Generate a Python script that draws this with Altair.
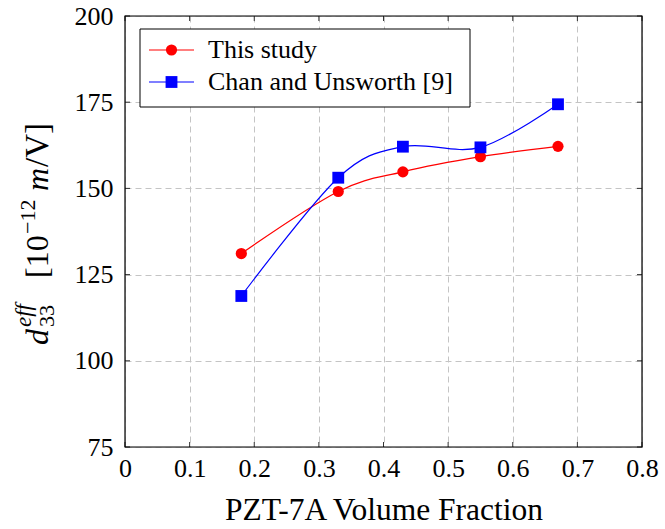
import altair as alt
import pandas as pd

# ---------------- data ----------------
X_VALUES = [0.18, 0.33, 0.43, 0.55, 0.67]
THIS_STUDY = [131.1, 149.1, 154.8, 159.2, 162.2]
CHAN = [118.8, 153.1, 162.1, 161.9, 174.4]
SERIES = ["This study", "Chan and Unsworth [9]"]
X_TICKS = [0, 0.1, 0.2, 0.3, 0.4, 0.5, 0.6, 0.7, 0.8]
Y_TICKS = [75, 100, 125, 150, 175, 200]
X_TITLE = "PZT-7A Volume Fraction"
Y_TITLE_PARTS = ["d", "33", "eff", "[10", "\u221212", "m", "/V]"]

# ---------------- style ----------------
COLORS = ["#ff0000", "#0000ff"]
SHAPES = ["circle", "square"]
SIZES = [125, 140]
FONT = "Liberation Serif"
W, H = 517, 431

x_scale = alt.Scale(domain=[0, 0.8], nice=False, zero=False)
y_scale = alt.Scale(domain=[75, 200], nice=False, zero=False)

x_axis = alt.Axis(values=X_TICKS, format=".1~f", title=X_TITLE, grid=True,
                  labelPadding=8, titleBaseline="alphabetic", titleY=72,
                  labelFont=FONT, labelFontSize=26, titleFont=FONT)
y_axis = alt.Axis(values=Y_TICKS, title=None, grid=True, labelPadding=12,
                  labelBaseline="middle", labelFont=FONT, labelFontSize=26)

XE = alt.X("x:Q", scale=x_scale, axis=x_axis)
YE = alt.Y("y:Q", scale=y_scale, axis=y_axis)

layers = []

# inner ticks (pgfplots style)
xt = pd.DataFrame({"x": X_TICKS})
yt = pd.DataFrame({"y": Y_TICKS})
TICK_LEN = 5
TICK_COLOR = "#333333"
layers.append(alt.Chart(xt).mark_rule(color=TICK_COLOR, strokeWidth=1).encode(
    x=XE, y=alt.value(H), y2=alt.value(H - TICK_LEN)))
layers.append(alt.Chart(xt).mark_rule(color=TICK_COLOR, strokeWidth=1).encode(
    x=XE, y=alt.value(0), y2=alt.value(TICK_LEN)))
layers.append(alt.Chart(yt).mark_rule(color=TICK_COLOR, strokeWidth=1).encode(
    y=YE, x=alt.value(0), x2=alt.value(TICK_LEN)))
layers.append(alt.Chart(yt).mark_rule(color=TICK_COLOR, strokeWidth=1).encode(
    y=YE, x=alt.value(W - TICK_LEN), x2=alt.value(W)))

series_vals = [THIS_STUDY, CHAN]
for i, name in enumerate(SERIES):
    df = pd.DataFrame({"x": X_VALUES, "y": series_vals[i]})
    layers.append(alt.Chart(df).mark_line(interpolate="cardinal", color=COLORS[i],
                                          strokeWidth=1.2).encode(x=XE, y=YE))
    layers.append(alt.Chart(df).mark_point(filled=True, opacity=1, shape=SHAPES[i],
                                           size=SIZES[i], color=COLORS[i])
                  .encode(x=XE, y=YE))

# frame
one = pd.DataFrame({"k": [0]})
layers.append(alt.Chart(one).mark_rect(fill=None, stroke="black", strokeWidth=1.2).encode(
    x=alt.value(0), x2=alt.value(W), y=alt.value(0), y2=alt.value(H)))

# legend box
layers.append(alt.Chart(one).mark_rect(fill="white", stroke="black", strokeWidth=1).encode(
    x=alt.value(15), x2=alt.value(345), y=alt.value(13), y2=alt.value(91)))
ROW_Y = [34, 66]
for i, name in enumerate(SERIES):
    layers.append(alt.Chart(one).mark_rule(color=COLORS[i], strokeWidth=1.2).encode(
        x=alt.value(24), x2=alt.value(69), y=alt.value(ROW_Y[i])))
    layers.append(alt.Chart(one).mark_point(filled=True, opacity=1, shape=SHAPES[i],
                                            size=SIZES[i], color=COLORS[i]).encode(
        x=alt.value(46.5), y=alt.value(ROW_Y[i])))
    layers.append(alt.Chart(pd.DataFrame({"t": [name]})).mark_text(
        align="left", baseline="middle", font=FONT, fontSize=26, color="black").encode(
        text="t:N", x=alt.value(83), y=alt.value(ROW_Y[i])))

# y-axis title built from pieces (rotated)
PIECE_STYLE = [  # (italic, size, dx, dy)
    (True, 32, 0, 0),
    (False, 22, 18, 6),
    (True, 23, 18, -17),
    (False, 32, 67, 0),
    (False, 22, 111, -13),
    (True, 32, 154, 0),
    (False, 33, 178, 0),
]
for txt, (ital, fs, dx, dy) in zip(Y_TITLE_PARTS, PIECE_STYLE):
    layers.append(alt.Chart(pd.DataFrame({"t": [txt]})).mark_text(
        align="left", baseline="alphabetic", angle=270, font=FONT, fontSize=fs,
        fontStyle="italic" if ital else "normal", color="black", dx=dx, dy=dy).encode(
        text="t:N", x=alt.value(-77), y=alt.value(329)))

chart = alt.layer(*layers).properties(
    width=W, height=H,
    padding={"left": 125, "top": 16, "right": 23, "bottom": 82},
    autosize=alt.AutoSizeParams(type="none"),
).configure_view(stroke=None).configure(background="white", font=FONT).configure_axis(
    gridDash=[6, 4], gridColor="#c4c4c4", gridWidth=1, domain=False, ticks=False,
    labelFont=FONT, labelFontSize=26, labelColor="black", labelFlush=False,
    titleFont=FONT, titleFontSize=31.5, titleFontWeight="normal", titleColor="black",
)

chart.save("out.html", embed_options={"renderer": "svg", "actions": False})
